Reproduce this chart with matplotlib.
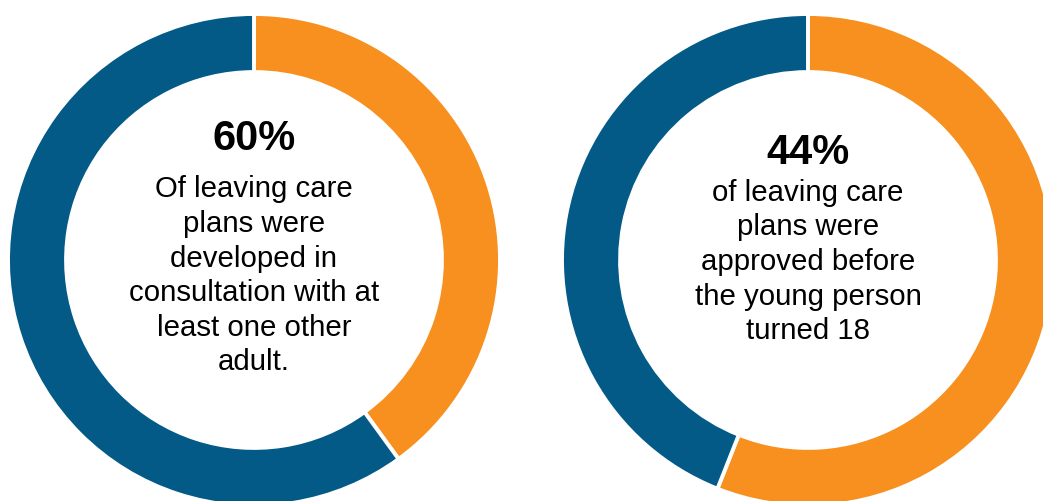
import matplotlib.pyplot as plt

# share of each donut, read clockwise from 12 o'clock: orange first, then blue
left_values = [40, 60]
right_values = [56, 44]
colors = ['#F7901E', '#035A87']

left_pct = '60%'
left_text = 'Of leaving care\nplans were\ndeveloped in\nconsultation with at\nleast one other\nadult.'
right_pct = '44%'
right_text = 'of leaving care\nplans were\napproved before\nthe young person\nturned 18'

plt.rcParams['font.family'] = ['Liberation Sans', 'DejaVu Sans']

W, H = 1043, 502
fig = plt.figure(figsize=(W / 100, H / 100), dpi=100)


def donut(cx, cy, r, values, pct, text, pct_y, text_y):
    # cx, cy in pixels from top-left of the figure
    ax = fig.add_axes([(cx - r) / W, (H - cy - r) / H, 2 * r / W, 2 * r / H])
    ax.pie(values, colors=colors, startangle=90, counterclock=False, radius=1,
           wedgeprops=dict(width=0.236, edgecolor='white', linewidth=2.8))
    ax.set_xlim(-1, 1)
    ax.set_ylim(-1, 1)
    ax.set_aspect('equal')
    ax.axis('off')
    fig.text(cx / W, 1 - pct_y / H, pct, ha='center', va='center',
             fontsize=30, fontweight='bold')
    fig.text(cx / W, 1 - text_y / H, text, ha='center', va='center',
             fontsize=21.2, linespacing=1.3)


donut(254, 261, 246, left_values, left_pct, left_text, 139, 276)
donut(808, 261, 246, right_values, right_pct, right_text, 153, 262)

fig.savefig('out.png', dpi=100)
